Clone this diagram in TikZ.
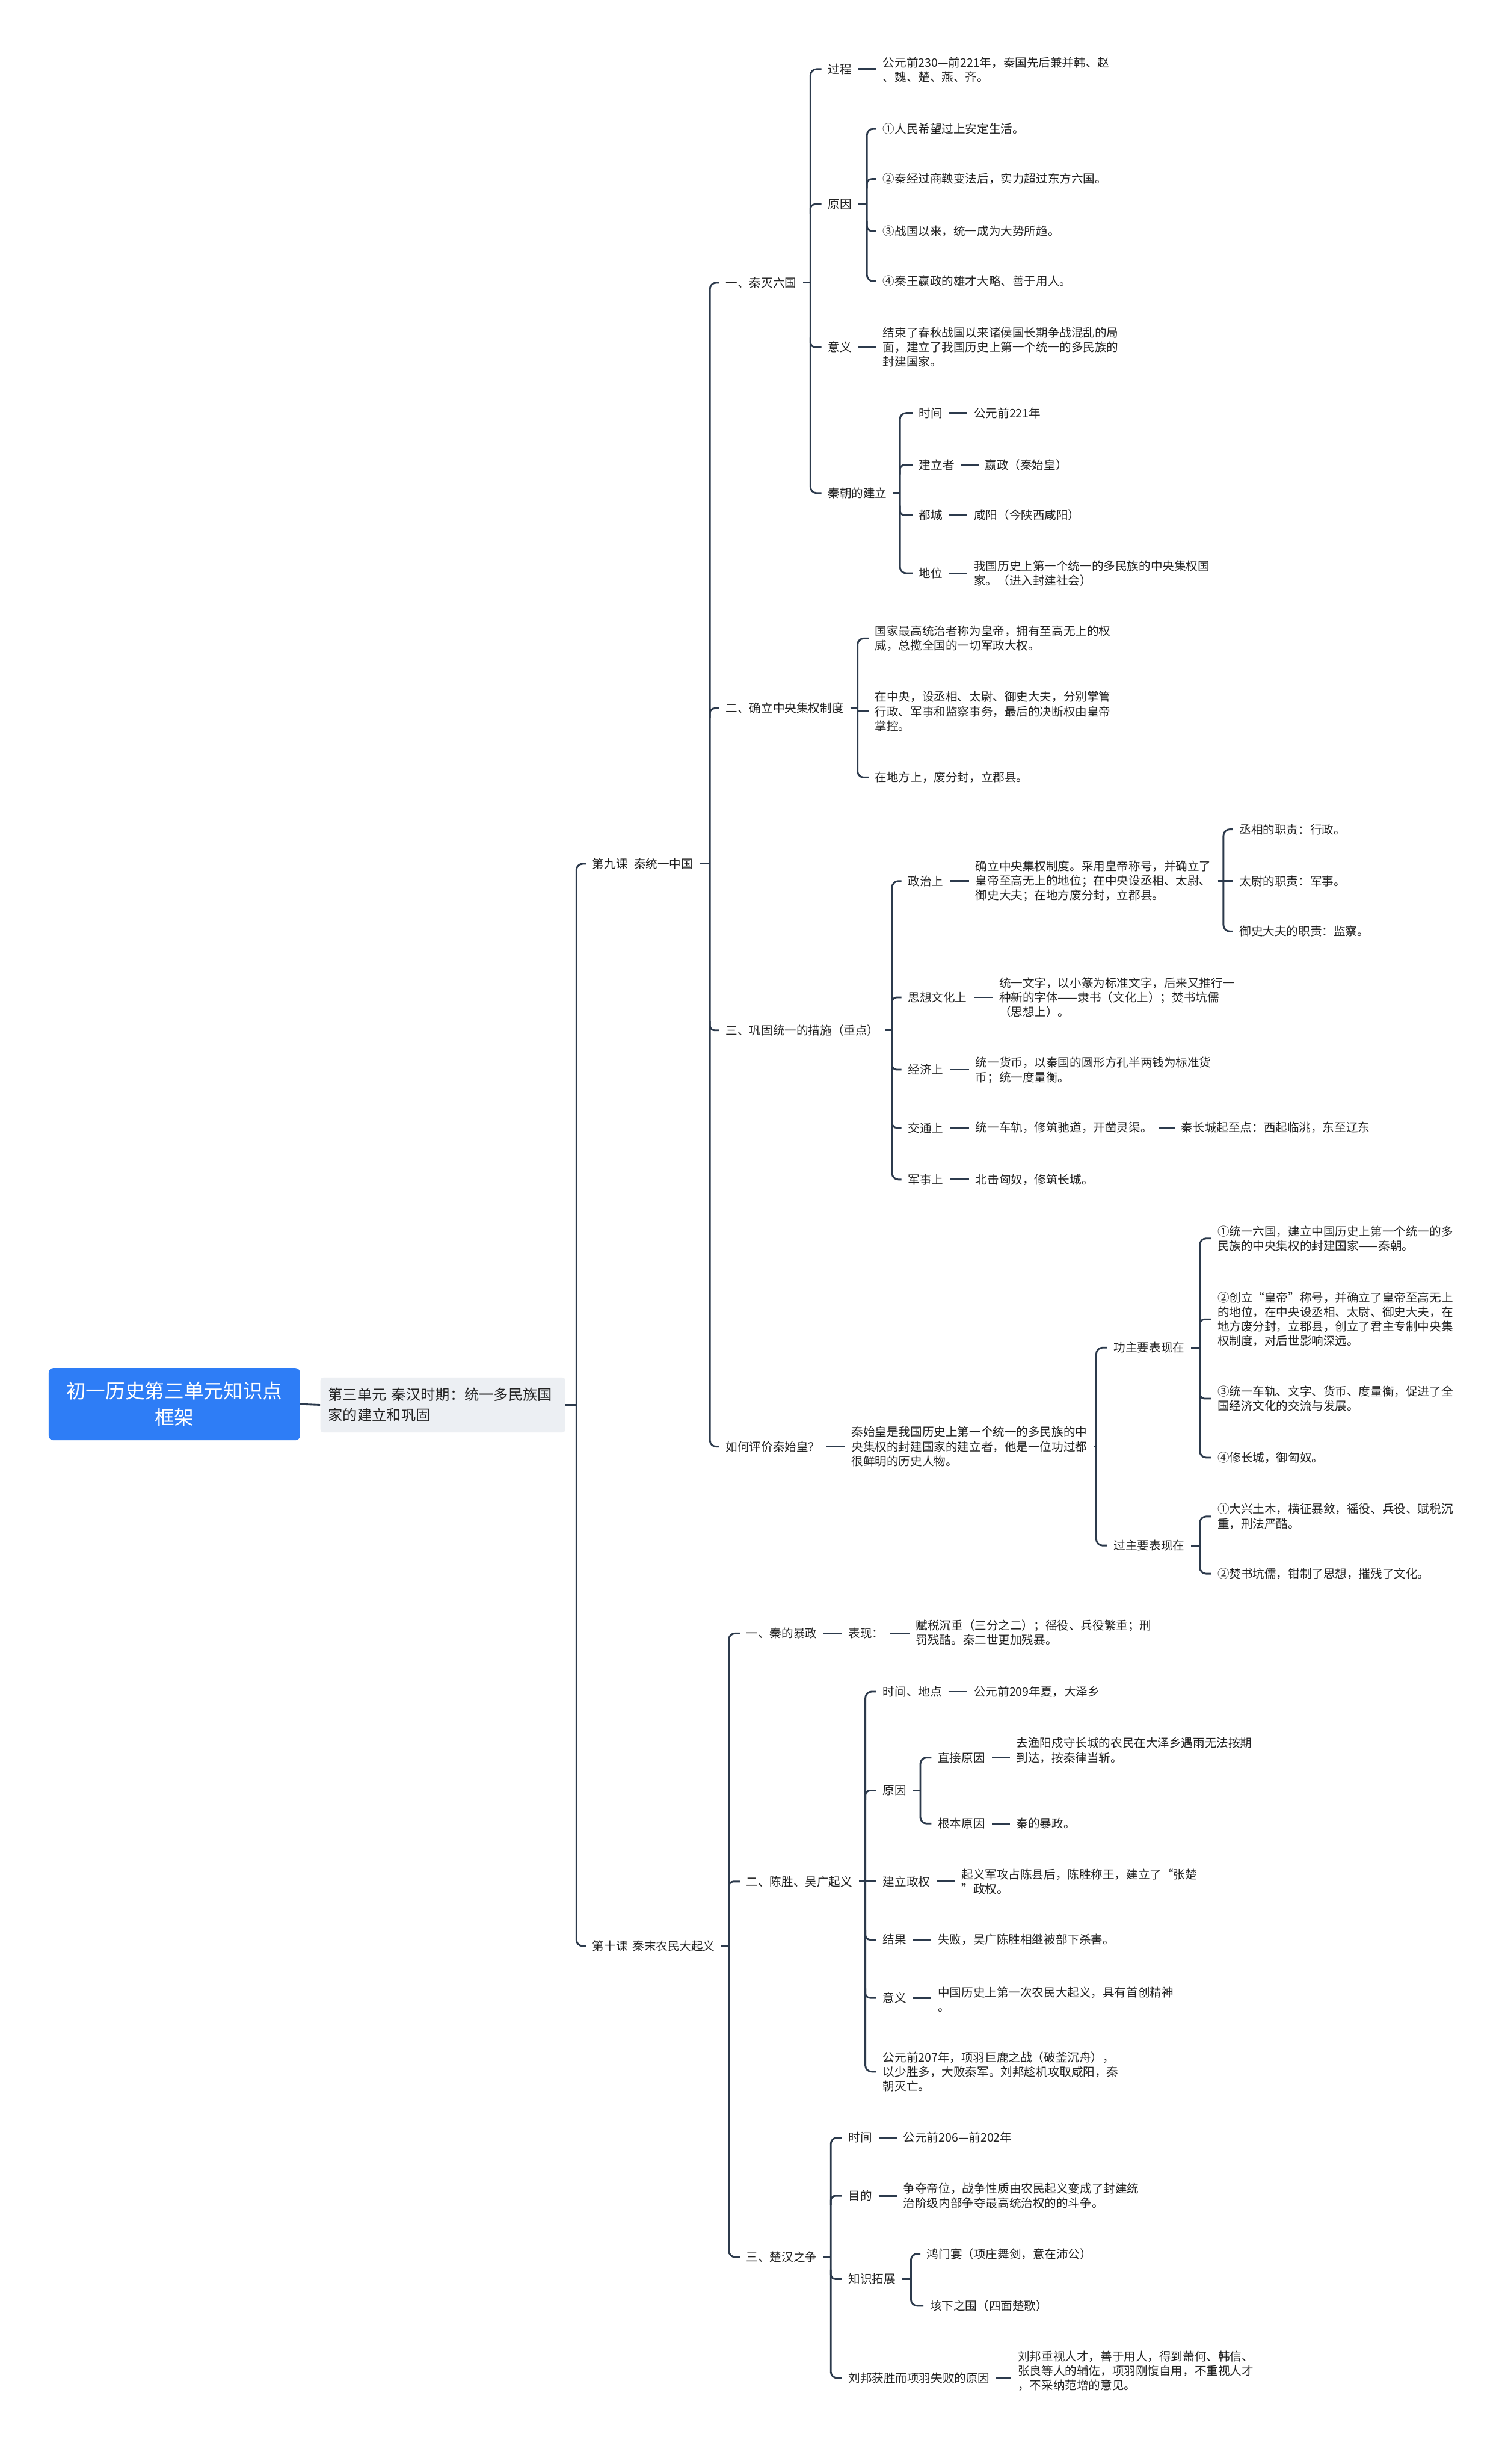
\documentclass[tikz,border=0pt]{standalone}
\usepackage{fontspec}
\setmainfont{Noto Sans CJK SC}
\usetikzlibrary{calc}
\definecolor{lc}{RGB}{44,58,76}
\definecolor{tc}{RGB}{34,34,34}
\definecolor{rootblue}{RGB}{46,125,246}
\definecolor{lgrey}{RGB}{236,239,243}
\tikzset{
  conn/.style={draw=lc,line width=1.1pt},
  t/.style={font=\fontsize{7.5}{9.3}\selectfont,inner sep=0pt,anchor=west,align=left,text=tc},
  rootbox/.style={fill=rootblue,rounded corners=3pt,minimum width=160pt,minimum height=46pt,text=white,font=\fontsize{12.5}{17}\selectfont,align=center,inner sep=0pt},
  l1box/.style={fill=lgrey,rounded corners=2pt,minimum width=156pt,minimum height=35pt,text width=146pt,align=left,inner sep=5pt,font=\fontsize{9.3}{13}\selectfont,text=tc}
}
% bracket: vertical coordinate, first child, last child
\newcommand\mmbr[3]{\draw[conn,rounded corners=4pt] ([xshift=-4pt]#2.west) -- (#2.west -| #1) -- (#3.west -| #1) -- ([xshift=-4pt]#3.west);}
\newcommand\mmup[2]{\draw[conn,rounded corners=3pt] ($(#2.west -| #1)+(0,-6)$) -- (#2.west -| #1) -- ([xshift=-4pt]#2.west);}
\newcommand\mmdn[2]{\draw[conn,rounded corners=3pt] ($(#2.west -| #1)+(0,6)$) -- (#2.west -| #1) -- ([xshift=-4pt]#2.west);}
\newcommand\mmst[2]{\draw[conn] (#2.west -| #1) -- ([xshift=-4pt]#2.west);}
\newcommand\mmpl[2]{\draw[conn] ([xshift=4pt]#2.east) -- (#2.east -| #1);}
\newcommand\mmlt[2]{\draw[conn] ([xshift=4pt]#1.east) -- ([xshift=-4pt]#1.east -| #2.west);}
\begin{document}
\begin{tikzpicture}[x=1pt,y=1pt]
\useasboundingbox[fill=white] (0,0) rectangle (956,-1568.8);

% vertical line positions
\coordinate (v0) at (367,0);
\coordinate (v9) at (452,0);
\coordinate (v9a) at (516,0);
\coordinate (v9aa) at (552,0);
\coordinate (v9ab) at (573,0);
\coordinate (v9b) at (546,0);
\coordinate (v9c) at (568,0);
\coordinate (v9ca) at (779,0);
\coordinate (v9d) at (698,0);
\coordinate (v9da) at (764,0);
\coordinate (v10) at (464,0);
\coordinate (v10b) at (551,0);
\coordinate (v10ba) at (586,0);
\coordinate (v10c) at (529,0);
\coordinate (v10ca) at (580,0);

% root and level 1
\node[rootbox] (root) at (111,-894) {初一历史第三单元知识点\\框架};
\node[l1box] (l1) at (282,-894.5) {第三单元 秦汉时期：统一多民族国\\家的建立和巩固};

% lessons
\node[t] (k9) at (377,-550) {第九课\hspace{4pt}秦统一中国};
\node[t] (k10) at (377,-1239) {第十课\hspace{3pt}秦末农民大起义};

% lesson 9 sections
\node[t] (s1) at (462,-180) {一、秦灭六国};
\node[t] (s2) at (462,-451) {二、确立中央集权制度};
\node[t] (s3) at (462,-656) {三、巩固统一的措施（重点）};
\node[t] (s4) at (462,-921) {如何评价秦始皇？};

% s1 children
\node[t] (gc) at (527,-44) {过程};
\node[t] (gct) at (562,-44.5) {公元前230—前221年，秦国先后兼并韩、赵\\、魏、楚、燕、齐。};
\node[t] (yy) at (527,-130) {原因};
\node[t] (yy1) at (562,-82) {①人民希望过上安定生活。};
\node[t] (yy2) at (562,-114) {②秦经过商鞅变法后，实力超过东方六国。};
\node[t] (yy3) at (562,-147) {③战国以来，统一成为大势所趋。};
\node[t] (yy4) at (562,-179) {④秦王嬴政的雄才大略、善于用人。};
\node[t] (yi) at (527,-221) {意义};
\node[t] (yit) at (562,-221) {结束了春秋战国以来诸侯国长期争战混乱的局\\面，建立了我国历史上第一个统一的多民族的\\封建国家。};
\node[t] (jl) at (527,-314) {秦朝的建立};
\node[t] (jl1) at (585,-263) {时间};
\node[t] (jl1t) at (620,-263) {公元前221年};
\node[t] (jl2) at (585,-296) {建立者};
\node[t] (jl2t) at (627,-296) {嬴政（秦始皇）};
\node[t] (jl3) at (585,-328) {都城};
\node[t] (jl3t) at (620,-328) {咸阳（今陕西咸阳）};
\node[t] (jl4) at (585,-365) {地位};
\node[t] (jl4t) at (620,-365) {我国历史上第一个统一的多民族的中央集权国\\家。（进入封建社会）};

% s2 children
\node[t] (z1) at (557,-406.5) {国家最高统治者称为皇帝，拥有至高无上的权\\威，总揽全国的一切军政大权。};
\node[t] (z2) at (557,-453) {在中央，设丞相、太尉、御史大夫，分别掌管\\行政、军事和监察事务，最后的决断权由皇帝\\掌控。};
\node[t] (z3) at (557,-495) {在地方上，废分封，立郡县。};

% s3 children
\node[t] (c1) at (578,-561) {政治上};
\node[t] (c1t) at (621,-561) {确立中央集权制度。采用皇帝称号，并确立了\\皇帝至高无上的地位；在中央设丞相、太尉、\\御史大夫；在地方废分封，立郡县。};
\node[t] (c1a) at (789,-528) {丞相的职责：行政。};
\node[t] (c1b) at (789,-561) {太尉的职责：军事。};
\node[t] (c1c) at (789,-593) {御史大夫的职责：监察。};
\node[t] (c2) at (578,-635) {思想文化上};
\node[t] (c2t) at (636,-635) {统一文字，以小篆为标准文字，后来又推行一\\种新的字体——隶书（文化上）；焚书坑儒\\（思想上）。};
\node[t] (c3) at (578,-681) {经济上};
\node[t] (c3t) at (621,-681.5) {统一货币，以秦国的圆形方孔半两钱为标准货\\币；统一度量衡。};
\node[t] (c4) at (578,-718) {交通上};
\node[t] (c4t) at (621,-718) {统一车轨，修筑驰道，开凿灵渠。};
\node[t] (c4u) at (752,-718) {秦长城起至点：西起临洮，东至辽东};
\node[t] (c5) at (578,-751) {军事上};
\node[t] (c5t) at (621,-751) {北击匈奴，修筑长城。};

% s4 children
\node[t] (p0) at (542,-921) {秦始皇是我国历史上第一个统一的多民族的中\\央集权的封建国家的建立者，他是一位功过都\\很鲜明的历史人物。};
\node[t] (gong) at (709,-858) {功主要表现在};
\node[t] (g1) at (775,-788.5) {①统一六国，建立中国历史上第一个统一的多\\民族的中央集权的封建国家——秦朝。};
\node[t] (g2) at (775,-840) {②创立“皇帝”称号，并确立了皇帝至高无上\\的地位，在中央设丞相、太尉、御史大夫，在\\地方废分封，立郡县，创立了君主专制中央集\\权制度，对后世影响深远。};
\node[t] (g3) at (775,-890.5) {③统一车轨、文字、货币、度量衡，促进了全\\国经济文化的交流与发展。};
\node[t] (g4) at (775,-928) {④修长城，御匈奴。};
\node[t] (guo) at (709,-984) {过主要表现在};
\node[t] (f1) at (775,-965.5) {①大兴土木，横征暴敛，徭役、兵役、赋税沉\\重，刑法严酷。};
\node[t] (f2) at (775,-1002) {②焚书坑儒，钳制了思想，摧残了文化。};

% lesson 10 sections
\node[t] (r1) at (475,-1040) {一、秦的暴政};
\node[t] (r1a) at (540,-1040) {表现：};
\node[t] (r1t) at (583,-1039.5) {赋税沉重（三分之二）；徭役、兵役繁重；刑\\罚残酷。秦二世更加残暴。};
\node[t] (r2) at (475,-1198) {二、陈胜、吴广起义};
\node[t] (d1) at (562,-1077) {时间、地点};
\node[t] (d1t) at (620,-1077) {公元前209年夏，大泽乡};
\node[t] (d2) at (562,-1140) {原因};
\node[t] (d2a) at (597,-1119) {直接原因};
\node[t] (d2at) at (647,-1114.5) {去渔阳戍守长城的农民在大泽乡遇雨无法按期\\到达，按秦律当斩。};
\node[t] (d2b) at (597,-1161) {根本原因};
\node[t] (d2bt) at (647,-1161) {秦的暴政。};
\node[t] (d3) at (562,-1198) {建立政权};
\node[t] (d3t) at (612,-1198) {起义军攻占陈县后，陈胜称王，建立了“张楚\\”政权。};
\node[t] (d4) at (562,-1235) {结果};
\node[t] (d4t) at (597,-1235) {失败，吴广陈胜相继被部下杀害。};
\node[t] (d5) at (562,-1272) {意义};
\node[t] (d5t) at (597,-1273) {中国历史上第一次农民大起义，具有首创精神\\。};
\node[t] (d6) at (562,-1319) {公元前207年，项羽巨鹿之战（破釜沉舟），\\以少胜多，大败秦军。刘邦趁机攻取咸阳，秦\\朝灭亡。};
\node[t] (r3) at (475,-1437) {三、楚汉之争};
\node[t] (h1) at (540,-1361) {时间};
\node[t] (h1t) at (575,-1361) {公元前206—前202年};
\node[t] (h2) at (540,-1398) {目的};
\node[t] (h2t) at (575,-1398) {争夺帝位，战争性质由农民起义变成了封建统\\治阶级内部争夺最高统治权的的斗争。};
\node[t] (h3) at (540,-1451) {知识拓展};
\node[t] (h3a) at (590,-1435) {鸿门宴（项庄舞剑，意在沛公）};
\node[t] (h3b) at (592,-1468) {垓下之围（四面楚歌）};
\node[t] (h4) at (540,-1514) {刘邦获胜而项羽失败的原因};
\node[t] (h4t) at (648,-1509.5) {刘邦重视人才，善于用人，得到萧何、韩信、\\张良等人的辅佐，项羽刚愎自用，不重视人才\\，不采纳范增的意见。};

% ---------- connectors ----------
\draw[conn] (root.east) -- (l1.west);
\draw[conn] (l1.east) -- (l1.east -| v0);
\mmbr{v0}{k9}{k10}

% lesson 9
\mmpl{v9}{k9}
\mmbr{v9}{s1}{s4}
\mmup{v9}{s2}
\mmdn{v9}{s3}

\mmpl{v9a}{s1}
\mmbr{v9a}{gc}{jl}
\mmup{v9a}{yy}
\mmdn{v9a}{yi}
\mmlt{gc}{gct}
\mmlt{yi}{yit}
\mmpl{v9aa}{yy}
\mmbr{v9aa}{yy1}{yy4}
\mmup{v9aa}{yy2}
\mmdn{v9aa}{yy3}
\mmpl{v9ab}{jl}
\mmbr{v9ab}{jl1}{jl4}
\mmup{v9ab}{jl2}
\mmdn{v9ab}{jl3}
\mmlt{jl1}{jl1t}
\mmlt{jl2}{jl2t}
\mmlt{jl3}{jl3t}
\mmlt{jl4}{jl4t}

\mmpl{v9b}{s2}
\mmbr{v9b}{z1}{z3}
\mmst{v9b}{z2}

\mmpl{v9c}{s3}
\mmbr{v9c}{c1}{c5}
\mmup{v9c}{c2}
\mmdn{v9c}{c3}
\mmdn{v9c}{c4}
\mmlt{c1}{c1t}
\mmlt{c2}{c2t}
\mmlt{c3}{c3t}
\mmlt{c4}{c4t}
\mmlt{c4t}{c4u}
\mmlt{c5}{c5t}
\mmpl{v9ca}{c1t}
\mmbr{v9ca}{c1a}{c1c}
\mmst{v9ca}{c1b}

\mmlt{s4}{p0}
\mmpl{v9d}{p0}
\mmbr{v9d}{gong}{guo}
\mmpl{v9da}{gong}
\mmbr{v9da}{g1}{g4}
\mmup{v9da}{g2}
\mmdn{v9da}{g3}
\mmpl{v9da}{guo}
\mmbr{v9da}{f1}{f2}

% lesson 10
\mmpl{v10}{k10}
\mmbr{v10}{r1}{r3}
\mmup{v10}{r2}
\mmlt{r1}{r1a}
\mmlt{r1a}{r1t}

\mmpl{v10b}{r2}
\mmbr{v10b}{d1}{d6}
\mmup{v10b}{d2}
\mmst{v10b}{d3}
\mmdn{v10b}{d4}
\mmdn{v10b}{d5}
\mmlt{d1}{d1t}
\mmpl{v10ba}{d2}
\mmbr{v10ba}{d2a}{d2b}
\mmlt{d2a}{d2at}
\mmlt{d2b}{d2bt}
\mmlt{d3}{d3t}
\mmlt{d4}{d4t}
\mmlt{d5}{d5t}

\mmpl{v10c}{r3}
\mmbr{v10c}{h1}{h4}
\mmup{v10c}{h2}
\mmdn{v10c}{h3}
\mmlt{h1}{h1t}
\mmlt{h2}{h2t}
\mmpl{v10ca}{h3}
\mmbr{v10ca}{h3a}{h3b}
\mmlt{h4}{h4t}
\end{tikzpicture}
\end{document}
